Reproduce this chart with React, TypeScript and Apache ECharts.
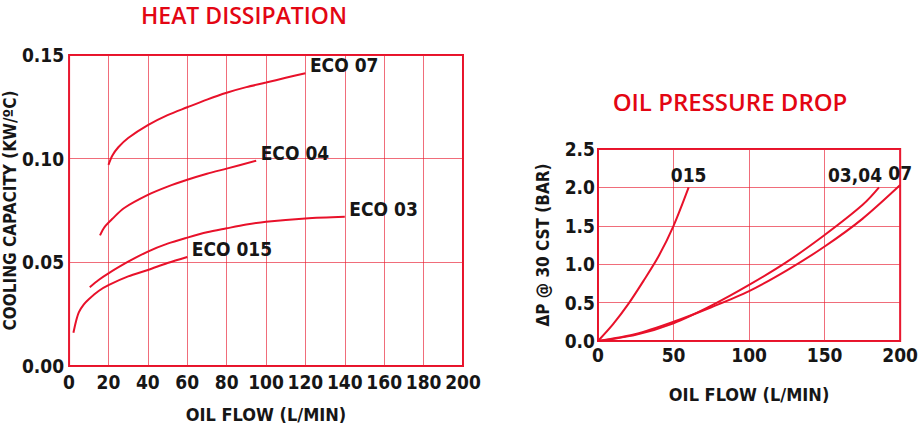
import React, { useEffect, useRef } from "react";
import * as echarts from "echarts";

// ---- Heat dissipation (left chart) ----
const heatTitle = "HEAT DISSIPATION";
const heatXName = "OIL FLOW (L/MIN)";
const heatYName = "COOLING CAPACITY (KW/ºC)";
const eco07: [number, number][] = [[20, 0.097], [22, 0.1015], [25, 0.1055], [30, 0.110], [40, 0.1162], [50, 0.121], [60, 0.1248], [70, 0.1285], [80, 0.1318], [90, 0.1345], [100, 0.1367], [110, 0.139], [120, 0.1412]];
const eco04: [number, number][] = [[15.7, 0.063], [18, 0.067], [22, 0.071], [28, 0.0762], [40, 0.0825], [50, 0.0865], [60, 0.0898], [70, 0.0927], [80, 0.0952], [95, 0.099]];
const eco03: [number, number][] = [[10.5, 0.038], [15, 0.0415], [20, 0.0447], [30, 0.0503], [40, 0.0552], [50, 0.059], [60, 0.0619], [70, 0.0645], [80, 0.0664], [90, 0.0682], [100, 0.0696], [120, 0.0712], [140, 0.072]];
const eco015: [number, number][] = [[2.2, 0.016], [3.5, 0.0215], [5, 0.026], [7.5, 0.0297], [10, 0.0322], [15, 0.0362], [20, 0.039], [30, 0.0432], [40, 0.0463], [50, 0.0497], [60, 0.0526]];
const heatNames = ["ECO 07", "ECO 04", "ECO 03", "ECO 015"];

// ---- Oil pressure drop (right chart) ----
const dropTitle = "OIL PRESSURE DROP";
const dropXName = "OIL FLOW (L/MIN)";
const dropYName = "ΔP @ 30 CST (BAR)";
const p015: [number, number][] = [[0, 0], [10, 0.22], [20, 0.48], [30, 0.78], [40, 1.1], [50, 1.5], [60, 2.0]];
const p0304: [number, number][] = [[0, 0], [25, 0.08], [50, 0.23], [75, 0.46], [100, 0.73], [125, 1.03], [150, 1.38], [175, 1.77], [186, 2.0]];
const p07: [number, number][] = [[0, 0], [25, 0.09], [50, 0.25], [75, 0.44], [100, 0.65], [125, 0.92], [150, 1.23], [175, 1.59], [200, 2.03]];
const dropNames = ["015", "03,04", "07"];

const RED = "#e8112a";
const GRID = "rgba(232,30,50,0.65)";
const INK = "#161616";
const COND = '"DejaVu Sans Condensed", "Liberation Sans Narrow", sans-serif';
const HEAD = '"Open Sans", "Lato", sans-serif';

function last(a: [number, number][]) {
  return a[a.length - 1];
}

export default function App() {
  const ref = useRef<HTMLDivElement>(null);
  useEffect(() => {
    if (!ref.current) return;
    const chart = echarts.init(ref.current, undefined, { renderer: "svg" });
    const tickStyle = { color: INK, fontFamily: COND, fontWeight: "bold" as const, fontSize: 19 };
    const xNameStyle = { color: INK, fontFamily: COND, fontWeight: "bold" as const, fontSize: 18 };
    const yNameStyle = { color: INK, fontFamily: COND, fontWeight: "bold" as const, fontSize: 17 };
    const lineBase = (name: string, data: [number, number][], idx: number, label: any) => ({
      type: "line" as const,
      name,
      data,
      xAxisIndex: idx,
      yAxisIndex: idx,
      smooth: 0.3,
      symbol: "none",
      lineStyle: { color: RED, width: 2 },
      markPoint: {
        symbol: "circle",
        symbolSize: 1,
        itemStyle: { color: "transparent" },
        data: [{ coord: last(data), value: name }],
        label: { show: true, formatter: name, color: INK, fontFamily: COND, fontWeight: "bold", fontSize: 19, ...label },
      },
    });
    const heatLabel = { position: "right", distance: 4, offset: [0, -8] };
    chart.setOption({
      animation: false,
      title: [
        { text: heatTitle, left: 239, top: -2, textAlign: "center", textStyle: { color: "#e30613", fontFamily: HEAD, fontWeight: 600, fontSize: 23 } },
        { text: dropTitle, left: 725, top: 84, textAlign: "center", textStyle: { color: "#e30613", fontFamily: HEAD, fontWeight: 600, fontSize: 24 } },
      ],
      grid: [
        { left: 68, top: 55, width: 395, height: 311, show: true, borderColor: RED, borderWidth: 2, backgroundColor: "transparent" },
        { left: 598, top: 149, width: 313, height: 192, show: true, borderColor: RED, borderWidth: 2, backgroundColor: "transparent" },
      ],
      xAxis: [
        {
          type: "value", gridIndex: 0, min: 0, max: 200, interval: 20,
          axisLine: { show: false }, axisTick: { show: false },
          splitLine: { show: true, lineStyle: { color: GRID, width: 1 } },
          axisLabel: { ...tickStyle, margin: 6 },
          name: heatXName, nameLocation: "middle", nameGap: 39, nameTextStyle: xNameStyle,
        },
        {
          type: "value", gridIndex: 1, min: 0, max: 200, interval: 50,
          axisLine: { show: false }, axisTick: { show: false },
          splitLine: { show: true, lineStyle: { color: GRID, width: 1 } },
          axisLabel: { ...tickStyle, margin: 4 },
          name: dropXName, nameLocation: "middle", nameGap: 44, nameTextStyle: xNameStyle,
        },
      ],
      yAxis: [
        {
          type: "value", gridIndex: 0, min: 0, max: 0.15, interval: 0.05,
          axisLine: { show: false }, axisTick: { show: false },
          splitLine: { show: true, lineStyle: { color: GRID, width: 1 } },
          axisLabel: { ...tickStyle, margin: 5, formatter: (v: number) => v.toFixed(2) },
          name: heatYName, nameLocation: "middle", nameGap: 48, nameRotate: 90, nameTextStyle: yNameStyle,
        },
        {
          type: "value", gridIndex: 1, min: 0, max: 2.5, interval: 0.5,
          axisLine: { show: false }, axisTick: { show: false },
          splitLine: { show: true, lineStyle: { color: GRID, width: 1 } },
          axisLabel: { ...tickStyle, margin: 3, formatter: (v: number) => v.toFixed(1) },
          name: dropYName, nameLocation: "middle", nameGap: 47, nameRotate: 90, nameTextStyle: yNameStyle,
        },
      ],
      series: [
        lineBase(heatNames[0], eco07, 0, heatLabel),
        lineBase(heatNames[1], eco04, 0, heatLabel),
        lineBase(heatNames[2], eco03, 0, heatLabel),
        lineBase(heatNames[3], eco015, 0, heatLabel),
        lineBase(dropNames[0], p015, 1, { position: "top", distance: 2 }),
        lineBase(dropNames[1], p0304, 1, { position: "top", distance: 2, offset: [-24, 0] }),
        lineBase(dropNames[2], p07, 1, { position: "top", distance: 2 }),
      ],
    });
    return () => chart.dispose();
  }, []);
  return <div ref={ref} style={{ position: "absolute", left: 0, top: 0, width: 921, height: 429 }} />;
}
